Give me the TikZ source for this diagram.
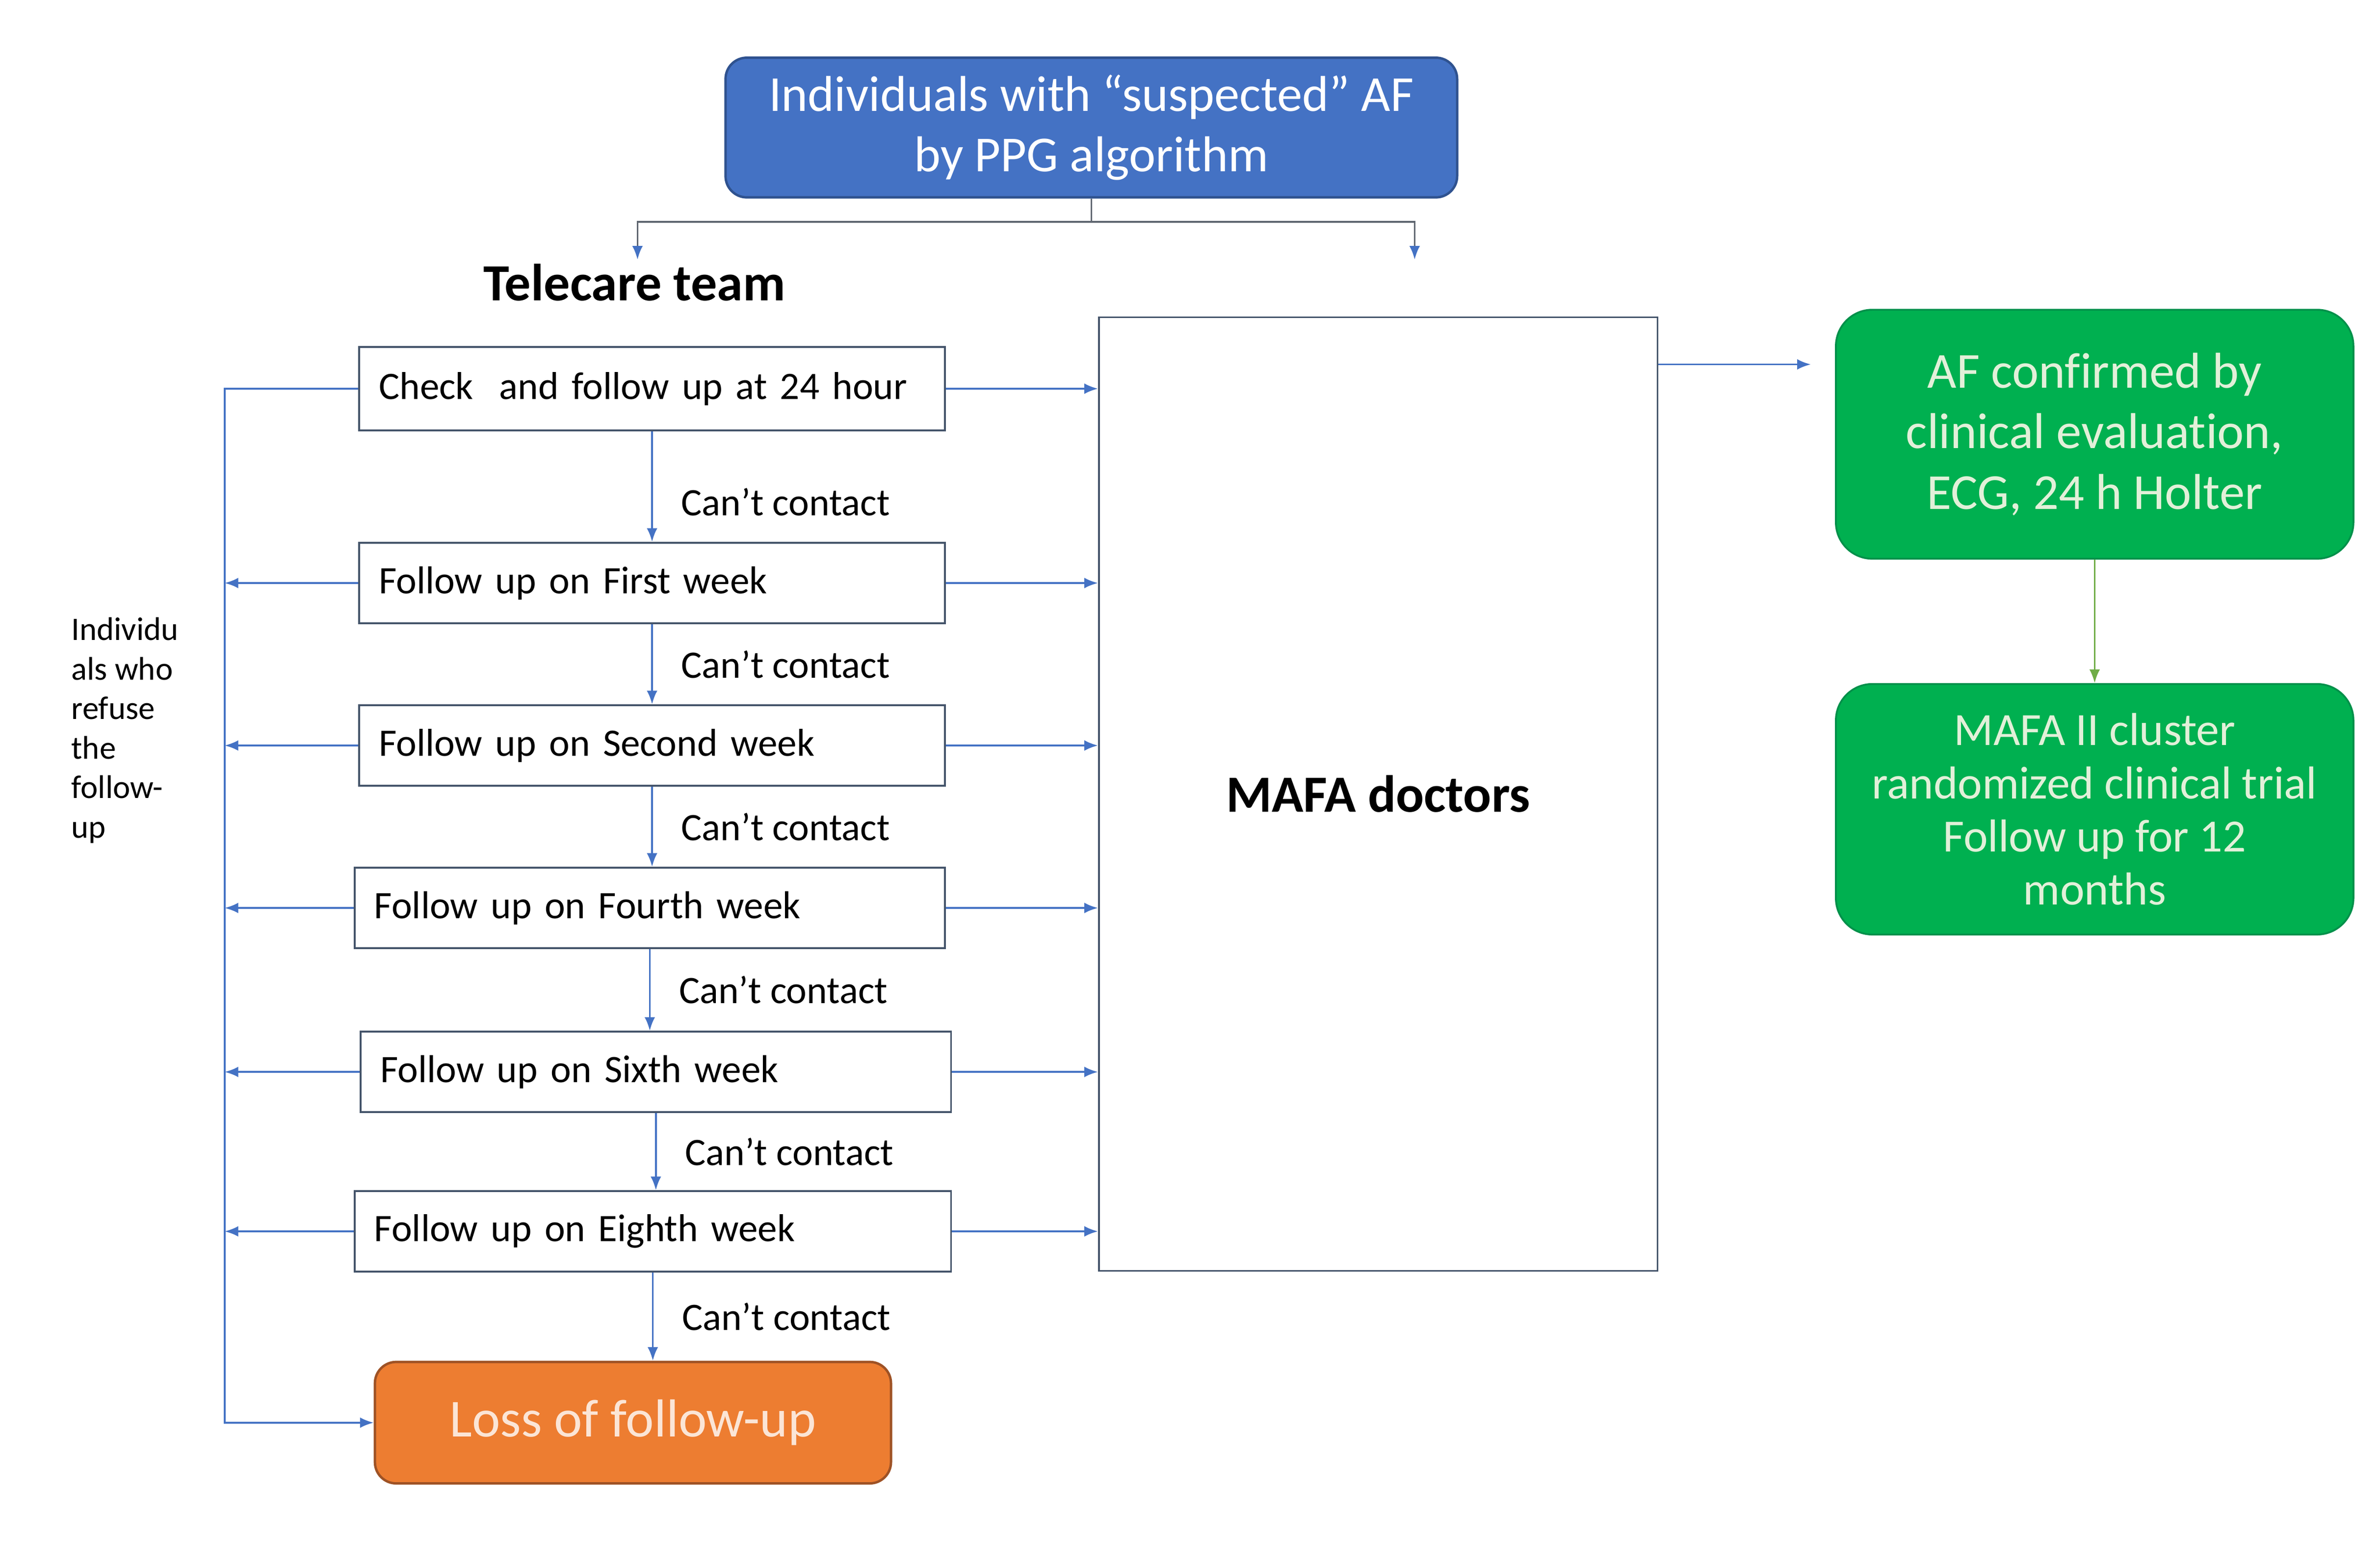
\documentclass[tikz,border=0pt]{standalone}
\usepackage{fontspec}
\setmainfont{Carlito}[Ligatures=NoCommon]
\usetikzlibrary{arrows.meta,positioning}
\definecolor{ppgblue}{HTML}{4472C4}
\definecolor{ppgline}{HTML}{2F528F}
\definecolor{lineblue}{HTML}{4472C4}
\definecolor{boxline}{HTML}{44546A}
\definecolor{splitgray}{HTML}{5F6670}
\definecolor{lossfill}{HTML}{ED7D31}
\definecolor{lossline}{HTML}{9E5225}
\definecolor{losstext}{HTML}{FBE5D6}
\definecolor{afgreen}{HTML}{00B050}
\definecolor{afline}{HTML}{00904A}
\definecolor{aftext}{HTML}{E2F0D9}
\definecolor{arrgreen}{HTML}{70AD47}
\tikzset{
  fubox/.style={draw=boxline, line width=0.6pt, anchor=west, align=left,
    inner xsep=6.5pt, minimum height=26.5pt, text width=#1,
    font=\fontsize{12.8}{15}\selectfont},
  fubox/.default=180pt,
  arr/.style={draw=lineblue, line width=0.6pt, -{Latex[length=4.5pt,width=3.5pt]}},
  cant/.style={midway, right=6pt, font=\fontsize{12.8}{15}\selectfont},
  greenbox/.style={draw=afline, line width=0.6pt, fill=afgreen, text=aftext,
    rounded corners=12pt, minimum width=170.5pt, minimum height=82pt, align=center},
}
\begin{document}
\begin{tikzpicture}[x=0.5pt, y=-0.5pt]
  \useasboundingbox (0,0) rectangle (1568,1015.3);

  \node[draw=ppgline, line width=0.8pt, fill=ppgblue, text=white, rounded corners=7pt,
    minimum width=241pt, minimum height=46pt, align=center,
    font=\fontsize{16.6}{20}\selectfont] (ppg) at (719,84)
    {Individuals with “suspected” AF\\by PPG algorithm};
  \coordinate (split) at (719,146);
  \coordinate (tcend) at (420,171);
  \coordinate (mdend) at (932,171);
  \draw[splitgray, line width=0.6pt] (ppg.south) -- (split);
  \draw[splitgray, line width=0.6pt, -{Latex[length=4.5pt,width=3.5pt,color=lineblue]}] (split) -| (tcend);
  \draw[splitgray, line width=0.6pt, -{Latex[length=4.5pt,width=3.5pt,color=lineblue]}] (split) -| (mdend);

  \node[font=\bfseries\fontsize{17.2}{20}\selectfont] (telecare) at (418,186) {Telecare team};

  \node[draw=boxline, line width=0.6pt, minimum width=184pt, minimum height=314pt,
    font=\bfseries\fontsize{17.2}{20}\selectfont] (mafa) at (908,523) {MAFA doctors};

  \node[fubox, minimum height=27.5pt] (check) at (236,256) {Check\ \ and follow up at 24 hour};
  \node[fubox] (first) at (236,384) {Follow up on First week};
  \node[fubox] (second) at (236,491) {Follow up on Second week};
  \node[fubox=181.5pt] (fourth) at (233,598) {Follow up on Fourth week};
  \node[fubox=181.5pt] (sixth) at (237,706) {Follow up on Sixth week};
  \node[fubox=183.5pt] (eighth) at (233,811) {Follow up on Eighth week};
  \node[draw=lossline, line width=0.8pt, fill=lossfill, text=losstext, rounded corners=7pt,
    minimum width=170pt, minimum height=40pt,
    font=\fontsize{17.6}{20}\selectfont] (loss) at (417,937) {Loss of follow-up};

  % can't contact chain
  \draw[arr] (check.south) -- (check.south |- first.north) node[cant, pos=0.64] {Can’t contact};
  \draw[arr] (first.south) -- (first.south |- second.north) node[cant] {Can’t contact};
  \draw[arr] (second.south) -- (second.south |- fourth.north) node[cant] {Can’t contact};
  \draw[arr] (fourth.south) -- (fourth.south |- sixth.north) node[cant] {Can’t contact};
  \draw[arr] (sixth.south) -- (sixth.south |- eighth.north) node[cant] {Can’t contact};
  \draw[arr] (eighth.south) -- (eighth.south |- loss.north) node[cant] {Can’t contact};

  % to MAFA doctors
  \draw[arr] (check.east) -- (check.east -| mafa.west);
  \draw[arr] (first.east) -- (first.east -| mafa.west);
  \draw[arr] (second.east) -- (second.east -| mafa.west);
  \draw[arr] (fourth.east) -- (fourth.east -| mafa.west);
  \draw[arr] (sixth.east) -- (sixth.east -| mafa.west);
  \draw[arr] (eighth.east) -- (eighth.east -| mafa.west);

  % refusing the follow-up
  \coordinate (refuse) at (148,254);
  \draw[arr] (check.west) -- (check.west -| refuse) |- (loss.west);
  \draw[arr] (first.west) -- (first.west -| refuse);
  \draw[arr] (second.west) -- (second.west -| refuse);
  \draw[arr] (fourth.west) -- (fourth.west -| refuse);
  \draw[arr] (sixth.west) -- (sixth.west -| refuse);
  \draw[arr] (eighth.west) -- (eighth.west -| refuse);
  \node[anchor=west, align=left, font=\fontsize{10.8}{13}\selectfont] (refusetxt) at (40,481)
    {Individu\\als who\\refuse\\the\\follow-\\up};

  \node[greenbox, font=\fontsize{16.6}{20}\selectfont] (afconf) at (1380,286)
    {AF confirmed by\\clinical evaluation,\\ECG, 24 h Holter};
  \node[greenbox, minimum height=82.5pt, font=\fontsize{15.2}{17.5}\selectfont] (trial) at (1380,533)
    {MAFA II cluster\\randomized clinical trial\\Follow up for 12\\months};
  \coordinate (afend) at (1193,240);
  \draw[arr] (mafa.east |- afend) -- (afend);
  \draw[draw=arrgreen, line width=0.6pt, -{Latex[length=4.5pt,width=3.5pt]}] (afconf) -- (trial);
\end{tikzpicture}
\end{document}
